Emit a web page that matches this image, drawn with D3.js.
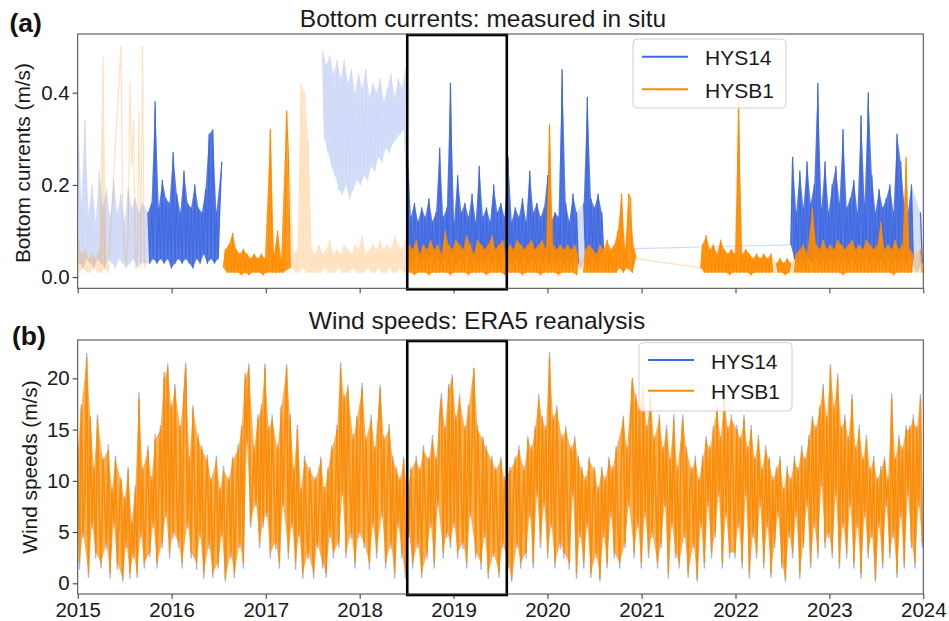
<!DOCTYPE html>
<html>
<head>
<meta charset="utf-8">
<script src="https://cdn.jsdelivr.net/npm/d3@7"></script>
<style>
  html, body { margin: 0; padding: 0; background: #fff; }
  svg { display: block; font-family: "Liberation Sans", Arial, Helvetica, sans-serif; }
</style>
</head>
<body>
<svg id="chart" width="949" height="621"></svg>
<script>
// ---------------------------------------------------------------------------
// Data
// ---------------------------------------------------------------------------
const seriesNames = ["HYS14", "HYSB1"];
const yearTicks = [2015, 2016, 2017, 2018, 2019, 2020, 2021, 2022, 2023, 2024];
const currentTicks = [0, 0.2, 0.4];
const windTicks = [0, 5, 10, 15, 20];
const currentDomain = [-0.0243, 0.5273];   // m/s
const windDomain = [-1.04, 23.74];         // m/s
const highlightPeriod = ["2018-07-05", "2019-07-27"];

// Bottom currents, weekly samples in cm/s. Each run starts on the given date;
// a run marked "joined" continues the raw record of the previous run.
const hys14RunStarts = ["2015-01-01", "2017-08-10", "2022-08-04"];
const hys14RunJoined = [false, false, true];
const hys14RunA = [
  39,3,16,2,34,4,14,3,20,2, 12,4,23,3,15,2,19,4,13,3, 21,2,14,4,18,3,12,2,19,3,
  15,4,17,2,14,3,16,3,12,
  14,3,16,4,38,3,15,4,21,3, 17,4,16,2,27,3,18,4,14,3, 23,4,16,3,15,2,20,4,15,3,
  14,5,19,3,31,4,32,3,14,4, 16,25
];
const hys14RunB = [
  49,30,46,27,48,24,44,22,47,19, 43,18,47,20,42,17,45,19,40,21, 44,20,41,22,45,21,39,24,42,23,
  40,26,43,25,38,28,41,27,44,29, 39,30,43,31,41,32,45,
  29,4,13,3,16,5,12,3,15,4, 13,3,17,5,12,3,14,4,28,3, 13,4,15,3,42,5,12,3,22,4,
  14,3,16,5,13,3,18,4,12,3, 24,4,13,3,15,5,12,3,20,4, 14,3,16,5,13,3,26,4,12,3,
  15,4,13,3,17,5,12,3,23,4, 14,3,16,4,13,3,15,5,22,3, 12,4,14,3,13,4,45,3,16,4,
  12,3,18,4,14,3,
  2,4,
  16,4,39,3,17,5,15,3,18,4,14,6
];
const hys14RunC = [
  7,26,4,14,3,23,4,15,3,25, 4,16,3,20,4,42,3,15,4,25, 3,14,4,20,3,24,4,16,3,32,
  4,15,3,17,4,21,3,14,4,35, 3,16,4,40,3,22,4,14,3,19, 4,15,3,17,4,20,3,14,4,31,
  3,25,4,16,3,14,4,20,4,2, 1,3,14,3
];
const hys14ValidPeriods = [
  ["2015-10-01", "2016-07-21"], ["2018-07-05", "2020-05-03"], ["2020-05-18", "2020-08-10"],
  ["2022-08-01", "2023-11-26"], ["2023-12-18", "2024-01-01"]
];

const hysb1RunStarts = ["2015-01-01", "2015-06-18", "2016-07-21", "2021-08-19"];
const hysb1RunJoined = [false, true, false, true];
const hysb1RunA1 = [9,1,5,2,6,1,4,1,5,2, 4,1,6,1,48,2,4,1];
const hysb1RunA2 = [50,14,5,3,8,42,24,34,2,3, 36,2,50,2,3];
const hysb1RunB = [
  2,6,1,7,1,9.5,1,6,1,5, 0.5,6,1,5,0.5,4,1,5,1,4, 1,5,0.5,4,1,5,32,1,5,1, 10,1,4,1,6,36,26,2,
  2,5,1,6,1,42,2,40,1,30, 1,6,1,5,1,7,1,5,2,6, 1,8,1,5,1,6,2,5,1,7, 1,6,1,5,2,7,1,6,1,9,
  1,5,2,6,1,7,1,6,2,8, 1,6,1,7,2,6,1,9,1,7, 2,6,1,8,
  1,7,1,6,0.5,8,1,5,1,7, 1,6,0.5,8,1,6,1,7,1,5, 1,10,1,7,0.5,6,1,8,1,7, 1,6,1,9,0.5,7,1,5,1,8,
  1,7,1,6,0.5,7,1,9,1,6, 1,7,1,8,0.5,5,1,7,1,6, 1,8,1,7,0.5,6,1,7,1,8, 1,6,1,7,0.5,8,1,6,1,33,
  1,7,1,6,0.5,7,1,6,1,7, 1,6,1,7,0.5,5,
  2,3,
  1,6,1,7,1,6,1,5,1,7, 1,6,1,8,1,6,1,7,1,10, 2,18,1,6,2,18,17,1,6,4
];
const hysb1RunC = [
  2,7,1,9,1,6,1,7,1,5, 1,8,1,6,1,5,0.5,6,1,5, 1,38,1,5,1,6,1,5,0.5,4, 1,5,1,4,1,5,1,4,1,5, 1,
  1,
  3,1,4,1,3,0.5,4,1,3,
  1,
  1,5,1,6,1,7,1,5,1,6, 15,1,7,1,6,1,8,1,6,1, 7,1,6,1,8,1,7,0.5,6,1, 7,1,8,1,6,1,7,1,6,1,
  8,1,7,1,6,1,7,1,12,1, 6,1,7,1,6,0.5,8,1,6,1, 7,1,26,1,6,1,5,
  2,1,2,
  6,1
];
const hysb1ValidPeriods = [
  ["2016-07-21", "2017-04-10"], ["2018-07-05", "2020-05-03"], ["2020-05-18", "2020-12-31"],
  ["2021-08-19", "2022-05-29"], ["2022-06-05", "2022-08-07"], ["2022-08-14", "2023-11-26"],
  ["2023-12-18", "2024-01-01"]
];

// ERA5 wind speeds, weekly samples in m/s starting 2015-01-01.
const windStart = "2015-01-01";
const windHys14 = [
  // 2015
  13.5,1.4,17.4,4.5,9.3,22.4,0.6,16.3,5.4,11.4, 2.5,16.4,6.5,1.5,12.3,7.6,3.4,13.5,0.5,9.4,
  5.5,12.4,1.4,6.6,10.3,0.2,8.4,3.5,11.3,0.5, 5.6,2.5,9.5,0.6,18.6,4.5,11.3,1.5,8.4,13.4,
  2.6,10.4,5.5,14.5,1.5,9.3,15.4,3.5,20.6,6.5, 21.4,2.5,
  // 2016
  17.5,4.4,19.4,7.5,3.5,15.4,1.5,18.3,21.5,5.4, 12.4,2.5,17.3,8.6,1.4,14.5,4.5,13.4,0.5,8.3,
  12.5,3.4,10.3,0.6,6.5,12.4,1.5,9.3,4.6,11.4, 0.2,6.5,10.4,2.5,12.3,0.6,8.4,13.5,3.5,15.3,
  1.5,20.5,13.6,21.4,5.5,9.3,13.4,7.5,16.4,3.5, 17.4,5.5,
  // 2017
  21.4,6.5,15.3,2.5,16.4,9.5,3.4,13.5,1.5,17.3, 7.5,14.4,21.3,2.4,16.5,5.5,11.3,1.4,15.4,4.6,
  9.3,0.5,12.4,5.5,2.4,11.3,6.5,0.5,10.4,3.5, 7.6,12.3,1.5,9.4,0.6,11.3,4.5,13.4,2.5,8.3,
  15.4,3.5,21.5,8.6,18.4,2.5,19.3,10.5,4.4,14.5, 1.5,16.3,
  // 2018
  4.5,15.4,19.5,3.5,14.3,7.5,1.4,16.4,5.5,13.3, 2.5,15.4,19.3,6.5,14.4,1.5,10.3,15.5,3.4,12.4,
  0.5,11.3,5.5,10.4,2.5,12.3,0.5,9.4,4.5,11.3, 1.5,6.6,12.4,3.5,11.3,0.6,13.4,7.5,2.4,12.3,
  5.5,14.4,1.5,12.3,7.5,16.4,18.5,2.5,15.3,4.5, 19.4,3.5,
  // 2019
  20.3,5.5,16.4,2.5,18.4,8.5,3.4,15.3,1.5,17.4, 6.5,14.3,20.7,2.5,15.4,9.5,1.4,14.3,4.5,13.4,
  0.5,7.5,12.4,2.6,11.3,5.5,0.6,12.3,3.5,10.4, 6.5,1.5,11.3,0.2,9.4,12.3,3.5,13.4,1.5,7.6,
  11.4,2.5,14.3,6.5,13.4,1.5,15.3,8.5,18.4,3.5, 16.3,7.5,15.4,
  // 2020
  2.5,22.5,5.5,16.4,1.5,17.3,9.5,3.4,14.5,2.5, 15.3,6.5,1.4,13.4,8.5,14.3,0.5,12.4,4.5,11.3,
  1.5,10.4,5.5,12.3,0.6,8.4,11.3,2.5,9.4,0.2, 11.3,4.5,10.4,1.5,12.3,6.5,11.4,2.5,13.3,5.5,
  1.5,12.4,16.3,3.5,13.4,7.5,15.3,19.7,2.5,18.4, 5.5,17.3,
  // 2021
  1.5,19.3,6.5,15.4,2.5,18.4,4.5,14.3,8.5,1.5, 16.4,3.5,13.3,7.5,15.4,0.5,12.3,5.5,16.4,2.5,
  11.4,1.5,12.3,16.4,4.5,13.3,0.6,9.4,11.3,3.5, 12.4,0.2,10.3,5.5,12.4,1.5,14.3,7.5,13.4,2.5,
  15.3,4.5,17.4,8.5,14.3,1.5,18.4,6.5,15.3,2.5, 16.4,9.5,
  // 2022
  2.5,15.4,5.5,14.3,1.5,16.4,8.5,13.3,0.5,15.4, 4.5,12.3,2.5,14.4,7.5,11.3,1.5,13.4,5.5,12.3,
  0.6,10.4,3.5,11.3,6.5,12.4,1.5,9.3,0.2,11.4, 4.5,10.3,2.5,12.4,6.5,11.3,0.5,13.4,3.5,12.3,
  7.5,14.4,1.5,16.3,5.5,15.4,2.5,17.3,9.5,19.4, 3.5,16.3,
  // 2023
  4.5,21.3,2.5,17.4,8.5,20.4,1.5,15.3,5.5,16.4, 2.5,14.3,7.5,18.4,1.5,13.3,5.5,15.4,0.5,12.3,
  6.5,14.4,2.5,11.3,4.5,12.4,0.2,10.3,5.5,11.4, 1.5,12.3,7.5,10.4,2.5,18.5,4.5,12.3,0.6,14.4,
  6.5,13.3,1.5,15.4,8.5,15.3,3.5,16.4,1.5,15.3, 7.5,18.4,3.5
];
const windHysb1 = [
  // 2015
  13,2,17,5,9,22,1,16,6,11, 3,16,7,2,12,8,4,13,1,9, 6,12,2,7,10,0.5,8,4,11,1,
  6,3,9,1,18,5,11,2,8,13, 3,10,6,14,2,9,15,4,20,7, 21,3,
  // 2016
  17,5,19,8,4,15,2,18,21,6, 12,3,17,9,2,14,5,13,1,8, 12,4,10,1,7,12,2,9,5,11,
  0.5,7,10,3,12,1,8,13,4,15, 2,20,14,21,6,9,13,8,16,4, 17,6,
  // 2017
  21,7,15,3,16,10,4,13,2,17, 8,14,21,3,16,6,11,2,15,5, 9,1,12,6,3,11,7,1,10,4,
  8,12,2,9,1,11,5,13,3,8, 15,4,21,9,18,3,19,11,5,14, 2,16,
  // 2018
  5,15,19,4,14,8,2,16,6,13, 3,15,19,7,14,2,10,15,4,12, 1,11,6,10,3,12,1,9,5,11,
  2,7,12,4,11,1,13,8,3,12, 6,14,2,12,8,16,18,3,15,5, 19,4,
  // 2019
  20,6,16,3,18,9,4,15,2,17, 7,14,21,3,15,10,2,14,5,13, 1,8,12,3,11,6,1,12,4,10,
  7,2,11,0.5,9,12,4,13,2,8, 11,3,14,7,13,2,15,9,18,4, 16,8,15,
  // 2020
  3,22,6,16,2,17,10,4,14,3, 15,7,2,13,9,14,1,12,5,11, 2,10,6,12,1,8,11,3,9,0.5,
  11,5,10,2,12,7,11,3,13,6, 2,12,16,4,13,8,15,20,3,18, 6,17,
  // 2021
  2,19,7,15,3,18,5,14,9,2, 16,4,13,8,15,1,12,6,16,3, 11,2,12,16,5,13,1,9,11,4,
  12,0.5,10,6,12,2,14,8,13,3, 15,5,17,9,14,2,18,7,15,3, 16,10,
  // 2022
  3,15,6,14,2,16,9,13,1,15, 5,12,3,14,8,11,2,13,6,12, 1,10,4,11,7,12,2,9,0.5,11,
  5,10,3,12,7,11,1,13,4,12, 8,14,2,16,6,15,3,17,10,19, 4,16,
  // 2023
  5,21,3,17,9,20,2,15,6,16, 3,14,8,18,2,13,6,15,1,12, 7,14,3,11,5,12,0.5,10,6,11,
  2,12,8,10,3,18,5,12,1,14, 7,13,2,15,9,15,4,16,2,15, 8,18,4
];

// ---------------------------------------------------------------------------
// Helpers
// ---------------------------------------------------------------------------
const DAY = 864e5;
const parseDay = s => new Date(s + "T00:00:00Z");
const weeklyPoints = (start, values, unit = 1) => {
  const t0 = parseDay(start).getTime();
  return values.map((v, i) => ({ date: new Date(t0 + i * 7 * DAY), value: v * unit }));
};
const validTest = periods => {
  const p = periods.map(([a, b]) => [parseDay(a), parseDay(b)]);
  return d => p.some(([a, b]) => d.date >= a && d.date <= b);
};
// contiguous stretches of points passing a test
const splitRuns = (pts, test) => {
  const out = []; let cur = [];
  pts.forEach(d => {
    if (test(d)) cur.push(d);
    else { if (cur.length) out.push(cur); cur = []; }
  });
  if (cur.length) out.push(cur);
  return out;
};
// polygon through the local maxima and back through the local minima:
// the shaded range that the samples sweep between peaks and troughs
const rangePolygon = (pts, xs, ys) => {
  const n = pts.length;
  if (n < 2) return null;
  const v = i => pts[i].value;
  const top = [], bot = [];
  for (let i = 0; i < n; i++) {
    const first = i === 0, last = i === n - 1;
    const isMax = (first || v(i) >= v(i - 1)) && (last || v(i) >= v(i + 1));
    const isMin = (first || v(i) <= v(i - 1)) && (last || v(i) <= v(i + 1));
    if (isMax || first || last) top.push(pts[i]);
    if (isMin || first || last) bot.push(pts[i]);
  }
  const ring = top.concat(bot.reverse());
  return d3.line().x(d => xs(d.date)).y(d => ys(d.value))(ring) + "Z";
};

const colors = { HYS14: "#4169e1", HYSB1: "#ff8c00" };

const currentSeries = [
  {
    name: "HYS14",
    runs: [hys14RunA, hys14RunB, hys14RunC].map((v, i) => ({
      points: weeklyPoints(hys14RunStarts[i], v, 0.01), joined: hys14RunJoined[i], shaded: true })),
    valid: validTest(hys14ValidPeriods)
  },
  {
    name: "HYSB1",
    // the isolated summer-2015 spikes are drawn as lines only
    runs: [hysb1RunA1, hysb1RunA2, hysb1RunB, hysb1RunC].map((v, i) => ({
      points: weeklyPoints(hysb1RunStarts[i], v, 0.01), joined: hysb1RunJoined[i], shaded: i !== 1 })),
    valid: validTest(hysb1ValidPeriods)
  }
];

// ---------------------------------------------------------------------------
// Layout
// ---------------------------------------------------------------------------
const svg = d3.select("#chart");
const plotLeft = 77.7, plotRight = 923.3;
const panels = {
  a: { top: 34, bottom: 288.3 },
  b: { top: 340, bottom: 594 }
};
const fontTick = 20.5, fontLabel = 20.8, fontTitle = 24.5, fontLegend = 21;

const x = d3.scaleUtc()
  .domain([parseDay("2015-01-01"), parseDay("2024-01-01")])
  .range([plotLeft, plotRight]);
const yA = d3.scaleLinear().domain(currentDomain).range([panels.a.bottom, panels.a.top]);
const yB = d3.scaleLinear().domain(windDomain).range([panels.b.bottom, panels.b.top]);

const defs = svg.append("defs");
["a", "b"].forEach(k => {
  defs.append("clipPath").attr("id", "clip-" + k)
    .append("rect")
    .attr("x", plotLeft).attr("y", panels[k].top)
    .attr("width", plotRight - plotLeft).attr("height", panels[k].bottom - panels[k].top);
});

function drawRange(layer, pts, color, fillOpacity, ys) {
  const poly = rangePolygon(pts, x, ys);
  if (poly) layer.append("path").attr("d", poly)
    .attr("fill", color).attr("fill-opacity", fillOpacity).attr("stroke", "none");
}
function drawLine(layer, pts, color, strokeOpacity, width, ys) {
  layer.append("path").datum(pts)
    .attr("d", d3.line().x(d => x(d.date)).y(d => ys(d.value)))
    .attr("fill", "none").attr("stroke", color)
    .attr("stroke-opacity", strokeOpacity).attr("stroke-width", width)
    .attr("stroke-linejoin", "round");
}

// ---------------------------------------------------------------------------
// Panel (a): bottom currents
// ---------------------------------------------------------------------------
const gA = svg.append("g");
const dataA = gA.append("g").attr("clip-path", "url(#clip-a)");

// raw record, faded; the line is joined across gaps in the same deployment
currentSeries.forEach(s => {
  const layer = dataA.append("g").attr("opacity", 0.25);
  s.runs.forEach(r => { if (r.shaded) drawRange(layer, r.points, colors[s.name], 0.85, yA); });
  const groups = [];
  s.runs.forEach(r => {
    if (r.joined && groups.length) groups[groups.length - 1].push(...r.points);
    else groups.push([...r.points]);
  });
  groups.forEach(pts => drawLine(layer, pts, colors[s.name], 1, 1.2, yA));
});
// quality-controlled record
currentSeries.forEach(s => {
  s.runs.forEach(r => {
    splitRuns(r.points, s.valid).forEach(seg => {
      drawRange(dataA, seg, colors[s.name], 0.85, yA);
      drawLine(dataA, seg, colors[s.name], 1, 1.2, yA);
    });
  });
});

// ---------------------------------------------------------------------------
// Panel (b): wind speeds
// ---------------------------------------------------------------------------
const gB = svg.append("g");
const dataB = gB.append("g").attr("clip-path", "url(#clip-b)");
const windA = weeklyPoints(windStart, windHys14);
const windB = weeklyPoints(windStart, windHysb1);
drawLine(dataB, windA, colors.HYS14, 0.5, 1.4, yB);
drawRange(dataB, windB, colors.HYSB1, 0.7, yB);
drawLine(dataB, windB, colors.HYSB1, 0.92, 1.4, yB);

// ---------------------------------------------------------------------------
// Axes, frames, highlight box, legends, titles
// ---------------------------------------------------------------------------
const yearDates = yearTicks.map(y => new Date(Date.UTC(y, 0, 1)));

function styleAxis(g) {
  g.select(".domain").remove();
  g.selectAll(".tick line").attr("stroke", "#333").attr("stroke-width", 1);
  g.selectAll(".tick text")
    .attr("fill", "#1a1a1a")
    .style("font-size", fontTick + "px")
    .style("font-family", '"Liberation Sans", Arial, sans-serif');
}

function drawFrame(g, p) {
  g.append("rect")
    .attr("x", plotLeft).attr("y", p.top)
    .attr("width", plotRight - plotLeft).attr("height", p.bottom - p.top)
    .attr("fill", "none").attr("stroke", "#444").attr("stroke-width", 1);
}

// panel (a) axes
gA.append("g").attr("transform", `translate(0,${panels.a.bottom})`)
  .call(d3.axisBottom(x).tickValues(yearDates).tickSize(5).tickFormat(""))
  .call(styleAxis);
gA.append("g").attr("transform", `translate(${plotLeft},0)`)
  .call(d3.axisLeft(yA).tickValues(currentTicks).tickSize(5).tickPadding(3).tickFormat(d3.format(".1f")))
  .call(styleAxis);

// panel (b) axes
gB.append("g").attr("transform", `translate(0,${panels.b.bottom})`)
  .call(d3.axisBottom(x).tickValues(yearDates).tickSize(5).tickPadding(3).tickFormat(d3.utcFormat("%Y")))
  .call(styleAxis);
gB.append("g").attr("transform", `translate(${plotLeft},0)`)
  .call(d3.axisLeft(yB).tickValues(windTicks).tickSize(5).tickPadding(3).tickFormat(d3.format("d")))
  .call(styleAxis);

// highlighted deployment period
const hx0 = x(parseDay(highlightPeriod[0])), hx1 = x(parseDay(highlightPeriod[1]));
[[gA, panels.a], [gB, panels.b]].forEach(([g, p]) => {
  g.append("rect")
    .attr("x", hx0).attr("y", p.top + 1)
    .attr("width", hx1 - hx0).attr("height", p.bottom - p.top)
    .attr("fill", "none").attr("stroke", "#000").attr("stroke-width", 2.6);
});

drawFrame(gA, panels.a);
drawFrame(gB, panels.b);

// legends
function drawLegend(g, box) {
  const lg = g.append("g");
  lg.append("rect")
    .attr("x", box.x).attr("y", box.y).attr("width", box.w).attr("height", box.h)
    .attr("rx", 4).attr("ry", 4)
    .attr("fill", "#fff").attr("fill-opacity", 0.8)
    .attr("stroke", "#d0d0d0").attr("stroke-width", 1);
  seriesNames.forEach((name, i) => {
    const ly = box.rowY[i];
    lg.append("line")
      .attr("x1", box.x + 9).attr("x2", box.x + 55)
      .attr("y1", ly).attr("y2", ly)
      .attr("stroke", colors[name]).attr("stroke-width", 2);
    lg.append("text")
      .attr("x", box.x + 72).attr("y", ly + 8.5)
      .attr("fill", "#1a1a1a")
      .style("font-size", fontLegend + "px")
      .text(name);
  });
}
drawLegend(gA, { x: 633, y: 39, w: 153, h: 69, rowY: [56.7, 89.3] });
drawLegend(gB, { x: 639, y: 342.7, w: 153, h: 68.3, rowY: [360, 390.7] });

// titles
svg.append("text").attr("x", 483).attr("y", 27).attr("text-anchor", "middle")
  .attr("fill", "#1a1a1a").style("font-size", fontTitle + "px")
  .text("Bottom currents: measured in situ");
svg.append("text").attr("x", 477).attr("y", 329).attr("text-anchor", "middle")
  .attr("fill", "#1a1a1a").style("font-size", fontTitle + "px")
  .text("Wind speeds: ERA5 reanalysis");

// panel letters
svg.append("text").attr("x", 9.5).attr("y", 32)
  .style("font-size", "26.5px").style("font-weight", "bold").attr("fill", "#111")
  .text("(a)");
svg.append("text").attr("x", 12).attr("y", 345)
  .style("font-size", "26.5px").style("font-weight", "bold").attr("fill", "#111")
  .text("(b)");

// axis labels
svg.append("text")
  .attr("transform", `translate(30,${(panels.a.top + panels.a.bottom) / 2 + 2}) rotate(-90)`)
  .attr("text-anchor", "middle").attr("fill", "#1a1a1a")
  .style("font-size", fontLabel + "px")
  .text("Bottom currents (m/s)");
svg.append("text")
  .attr("transform", `translate(36.5,${(panels.b.top + panels.b.bottom) / 2}) rotate(-90)`)
  .attr("text-anchor", "middle").attr("fill", "#1a1a1a")
  .style("font-size", fontLabel + "px")
  .text("Wind speeds (m/s)");
</script>
</body>
</html>
